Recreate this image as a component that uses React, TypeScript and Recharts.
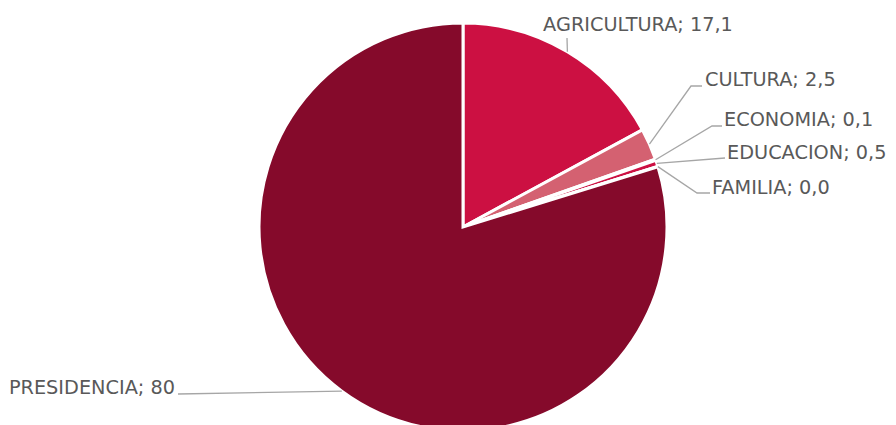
import { PieChart, Pie, Cell } from "recharts";

const areas = ["AGRICULTURA", "CULTURA", "ECONOMIA", "EDUCACION", "FAMILIA", "PRESIDENCIA"];
const shares = [17.1, 2.5, 0.1, 0.5, 0.04, 79.76];
const shareLabels = ["17,1", "2,5", "0,1", "0,5", "0,0", "80"];
const colors = ["#CC1042", "#D46171", "#E07A8C", "#CC1042", "#B0103A", "#850A2B"];

const data = areas.map((name, i) => ({ name, value: shares[i] }));

// where each label sits: elbow of the leader line and where the text begins
const labelLayout = [
  { elbow: [567, 38], end: [567, 38], tx: 638, ty: 31, anchor: "middle" },
  { elbow: [691, 86], end: [702, 86], tx: 705, ty: 86, anchor: "start" },
  { elbow: [712, 126], end: [722, 126], tx: 724, ty: 126, anchor: "start" },
  { elbow: [725, 158], end: [725, 158], tx: 727, ty: 159, anchor: "start" },
  { elbow: [697, 193], end: [710, 193], tx: 712, ty: 194, anchor: "start" },
  { elbow: [178, 394], end: [178, 394], tx: 175, ty: 394, anchor: "end" },
];

const RADIAN = Math.PI / 180;

function renderLabel(props: any) {
  const { cx, cy, midAngle, outerRadius, index } = props;
  const ax = cx + outerRadius * Math.cos(-midAngle * RADIAN);
  const ay = cy + outerRadius * Math.sin(-midAngle * RADIAN);
  const l = labelLayout[index];
  return (
    <g key={`lbl-${index}`}>
      <polyline
        points={`${ax},${ay} ${l.elbow[0]},${l.elbow[1]} ${l.end[0]},${l.end[1]}`}
        fill="none"
        stroke="#A6A6A6"
        strokeWidth={1.3}
      />
      <text
        x={l.tx}
        y={l.ty}
        textAnchor={l.anchor}
        fill="#595959"
        fontSize={19.3}
        fontFamily="DejaVu Sans, sans-serif"
      >
        {`${areas[index]}; ${shareLabels[index]}`}
      </text>
    </g>
  );
}

export default function App() {
  return (
    <div style={{ position: "fixed", left: 0, top: 0, width: 896, height: 425, background: "#fff" }}>
      <PieChart width={896} height={425} margin={{ top: 0, right: 0, bottom: 0, left: 0 }}>
        <Pie
          data={data}
          dataKey="value"
          nameKey="name"
          cx={463}
          cy={227}
          outerRadius={204}
          startAngle={90}
          endAngle={-270}
          stroke="#FFFFFF"
          strokeWidth={3}
          label={renderLabel}
          labelLine={false}
          isAnimationActive={false}
        >
          {data.map((d, i) => (
            <Cell key={d.name} fill={colors[i]} />
          ))}
        </Pie>
      </PieChart>
    </div>
  );
}
